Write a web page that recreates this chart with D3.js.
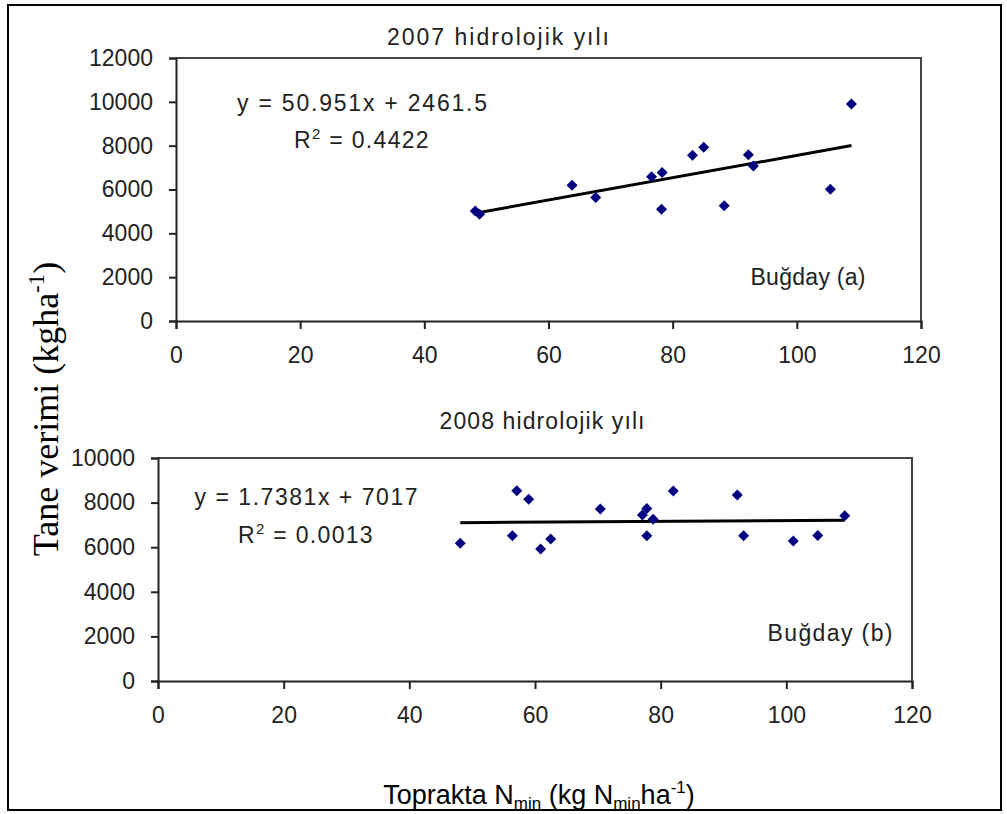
<!DOCTYPE html>
<html><head><meta charset="utf-8">
<script src="https://cdn.jsdelivr.net/npm/d3@7"></script>
<style>body{margin:0;background:#fff}svg{display:block}</style>
</head><body>
<script>
// ---- data ----
const x2007 = [48.2, 48.9, 63.8, 67.6, 76.6, 78.3, 78.2, 83.2, 85.0, 88.3, 92.2, 93.0, 105.4, 108.8];
const y2007 = [5020, 4870, 6190, 5640, 6580, 6770, 5100, 7560, 7930, 5260, 7590, 7070, 6010, 9900];
const x2008 = [48.1, 56.4, 57.1, 59.0, 60.9, 62.5, 70.4, 77.1, 77.8, 77.8, 78.8, 82.0, 92.2, 93.2, 101.1, 105.0, 109.3];
const y2008 = [6175, 6515, 8530, 8150, 5920, 6370, 7710, 7440, 7740, 6515, 7250, 8520, 8340, 6515, 6280, 6530, 7410];
const trend2007 = [50.951, 2461.5];
const trend2008 = [1.7381, 7017];
const xTicks = [0, 20, 40, 60, 80, 100, 120];
const yTicks2007 = [0, 2000, 4000, 6000, 8000, 10000, 12000];
const yTicks2008 = [0, 2000, 4000, 6000, 8000, 10000];

const W = 1007, H = 814;
const svg = d3.select("body").append("svg").attr("width", W).attr("height", H);
const SANS = "'Liberation Sans', Arial, sans-serif";

// outer frame
svg.append("rect").attr("x", 8).attr("y", 5).attr("width", 993).attr("height", 805)
  .attr("fill", "none").attr("stroke", "#000").attr("stroke-width", 2);

function panel(cfg) {
  const x = d3.scaleLinear().domain([0, 120]).range([cfg.left, cfg.right]);
  const y = d3.scaleLinear().domain([0, cfg.ymax]).range([cfg.bottom, cfg.top]);
  const g = svg.append("g");
  // border (top/right)
  g.append("path").attr("d", `M${cfg.left},${cfg.top}H${cfg.right}V${cfg.bottom}`)
    .attr("fill", "none").attr("stroke", "#444").attr("stroke-width", 2);
  const xa = g.append("g").attr("transform", `translate(0,${cfg.bottom})`)
    .call(d3.axisBottom(x).tickValues(xTicks).tickSize(8).tickPadding(18).tickFormat(d3.format("d")));
  const ya = g.append("g").attr("transform", `translate(${cfg.left},0)`)
    .call(d3.axisLeft(y).tickValues(cfg.yticks).tickSize(7).tickPadding(16).tickFormat(d3.format("d")));
  [xa, ya].forEach(a => {
    a.select(".domain").attr("stroke", "#222").attr("stroke-width", 2);
    a.selectAll(".tick line").attr("stroke", "#222").attr("stroke-width", 2);
    a.selectAll("text").attr("font-family", SANS).attr("font-size", 23).attr("fill", "#222");
  });
  // trend line
  const xs = d3.extent(cfg.xs);
  g.append("line")
    .attr("x1", x(xs[0])).attr("y1", y(cfg.trend[0] * xs[0] + cfg.trend[1]))
    .attr("x2", x(xs[1])).attr("y2", y(cfg.trend[0] * xs[1] + cfg.trend[1]))
    .attr("stroke", "#000").attr("stroke-width", 3);
  // points
  g.selectAll("path.pt").data(cfg.xs.map((v, i) => [v, cfg.ys[i]])).join("path")
    .attr("class", "pt").attr("d", "M0,-5.5L5.5,0L0,5.5L-5.5,0Z")
    .attr("fill", "#000080")
    .attr("transform", d => `translate(${x(d[0])},${y(d[1])})`);
  // title
  g.append("text").attr("x", cfg.titleX).attr("y", cfg.titleY).attr("text-anchor", "middle")
    .attr("font-family", SANS).attr("font-size", 23).attr("fill", "#222")
    .attr("textLength", cfg.titleW).attr("lengthAdjust", "spacing").text(cfg.title);
  g.append("text").attr("x", cfg.eqX).attr("y", cfg.eqY).attr("text-anchor", "middle")
    .attr("font-family", SANS).attr("font-size", 23).attr("fill", "#222")
    .attr("textLength", cfg.eqW).attr("lengthAdjust", "spacing").text(cfg.eq);
  const r = g.append("text").attr("x", cfg.rX).attr("y", cfg.rY).attr("text-anchor", "middle")
    .attr("font-family", SANS).attr("font-size", 23).attr("fill", "#222").attr("letter-spacing", 1.3);
  r.append("tspan").text("R");
  r.append("tspan").attr("font-size", 15).attr("dy", -9).text("2");
  r.append("tspan").attr("dy", 9).text(" = " + cfg.r2);
  g.append("text").attr("x", cfg.labX).attr("y", cfg.labY).attr("text-anchor", "middle")
    .attr("font-family", SANS).attr("font-size", 23).attr("fill", "#222")
    .attr("textLength", cfg.labW).attr("lengthAdjust", "spacing").text(cfg.lab);
}

panel({left: 176, right: 921, top: 58, bottom: 321, ymax: 12000, yticks: yTicks2007,
  xs: x2007, ys: y2007, trend: trend2007,
  title: "2007 hidrolojik yılı", titleX: 498, titleY: 45, titleW: 222,
  eq: "y = 50.951x + 2461.5", eqX: 362, eqY: 111, eqW: 250,
  r2: "0.4422", rX: 362, rY: 148,
  lab: "Buğday (a)", labX: 808, labY: 285, labW: 115});

panel({left: 158, right: 912, top: 458, bottom: 681, ymax: 10000, yticks: yTicks2008,
  xs: x2008, ys: y2008, trend: trend2008,
  title: "2008 hidrolojik yılı", titleX: 542, titleY: 429, titleW: 205,
  eq: "y = 1.7381x + 7017", eqX: 306, eqY: 505, eqW: 223,
  r2: "0.0013", rX: 306, rY: 543,
  lab: "Buğday (b)", labX: 830, labY: 641, labW: 125});

// y axis title (Times)
const yt = svg.append("text").attr("transform", "translate(58,409) rotate(-90)")
  .attr("text-anchor", "middle").attr("font-family", "'Liberation Serif', 'Times New Roman', serif")
  .attr("font-size", 36).attr("fill", "#000");
yt.append("tspan").text("Tane verimi (kgha");
yt.append("tspan").attr("font-size", 23).attr("dy", -14).text("-1");
yt.append("tspan").attr("dy", 14).text(")");

// x axis title
const xt = svg.append("text").attr("x", 539).attr("y", 804).attr("text-anchor", "middle")
  .attr("font-family", SANS).attr("font-size", 27).attr("fill", "#000");
xt.append("tspan").text("Toprakta N");
xt.append("tspan").attr("font-size", 17).attr("dy", 5).text("min");
xt.append("tspan").attr("dy", -5).text(" (kg N");
xt.append("tspan").attr("font-size", 17).attr("dy", 5).text("min");
xt.append("tspan").attr("dy", -5).text("ha");
xt.append("tspan").attr("font-size", 17).attr("dy", -11).text("-1");
xt.append("tspan").attr("dy", 11).text(")");
</script>
</body></html>
